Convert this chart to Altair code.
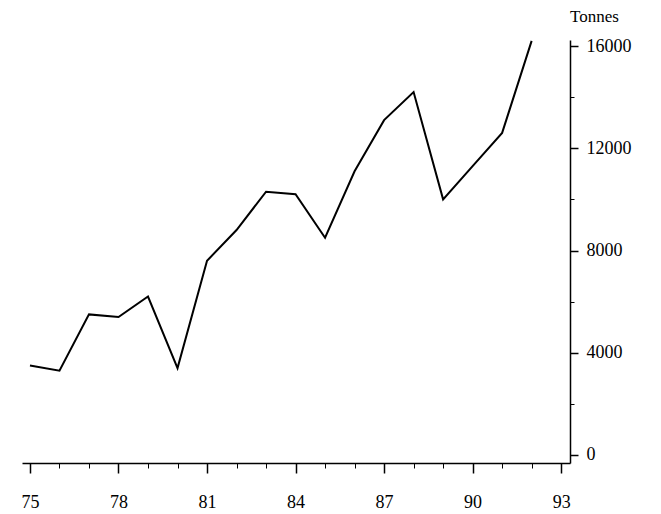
import altair as alt
import pandas as pd

years = list(range(75, 93))
tonnes = [3500, 3300, 5500, 5400, 6200, 3400, 7600, 8800, 10300, 10200,
          8500, 11100, 13100, 14200, 10000, 11300, 12600, 16200]

x_major = [75, 78, 81, 84, 87, 90, 93]
x_minor = list(range(75, 94))
y_major = [0, 4000, 8000, 12000, 16000]
y_minor = list(range(0, 16001, 2000))

df = pd.DataFrame({"year": years, "tonnes": tonnes})

FONT = "Liberation Serif"
xscale = alt.Scale(domain=[74.73, 93.3], nice=False, zero=False)
yscale = alt.Scale(domain=[-313, 16235], nice=False, zero=False)

line = alt.Chart(df).mark_line(color="black", strokeWidth=2).encode(
    x=alt.X("year:Q", scale=xscale,
            axis=alt.Axis(orient="bottom", values=x_major, format="d", title=None, grid=False,
                          domain=True, domainColor="black", domainWidth=1.5,
                          tickColor="black", tickSize=10, tickWidth=1.5,
                          labelFont=FONT, labelFontSize=18, labelColor="black",
                          labelPadding=20, labelFlush=False)),
    y=alt.Y("tonnes:Q", scale=yscale,
            axis=alt.Axis(orient="right", values=y_major, format="d", grid=False,
                          title="Tonnes", titleAngle=0, titleX=24, titleY=-24,
                          titleAlign="center", titleBaseline="middle",
                          titleFont=FONT, titleFontSize=17, titleFontWeight="normal",
                          titleColor="black",
                          domain=True, domainColor="black", domainWidth=1.5,
                          tickColor="black", tickSize=8, tickWidth=1.5,
                          labelFont=FONT, labelFontSize=18, labelColor="black",
                          labelPadding=8, labelFlush=False)),
)

minor = alt.Chart(df).mark_point(opacity=0).encode(
    x=alt.X("year:Q", scale=xscale,
            axis=alt.Axis(orient="bottom", values=x_minor, labels=False, title=None, grid=False,
                          domain=False, tickColor="black", tickSize=5, tickWidth=1)),
    y=alt.Y("tonnes:Q", scale=yscale,
            axis=alt.Axis(orient="right", values=y_minor, labels=False, title=None,
                          grid=False, domain=False, tickColor="black", tickSize=4,
                          tickWidth=1)),
)

chart = alt.layer(line, minor).resolve_axis(x="independent", y="independent").properties(
    width=548, height=423,
    autosize=alt.AutoSizeParams(type="none"),
    padding={"left": 14, "top": 32, "right": 80, "bottom": 50},
    background="white",
).configure_view(stroke=None)

chart.save("out.html", embed_options={"renderer": "svg", "actions": False})
